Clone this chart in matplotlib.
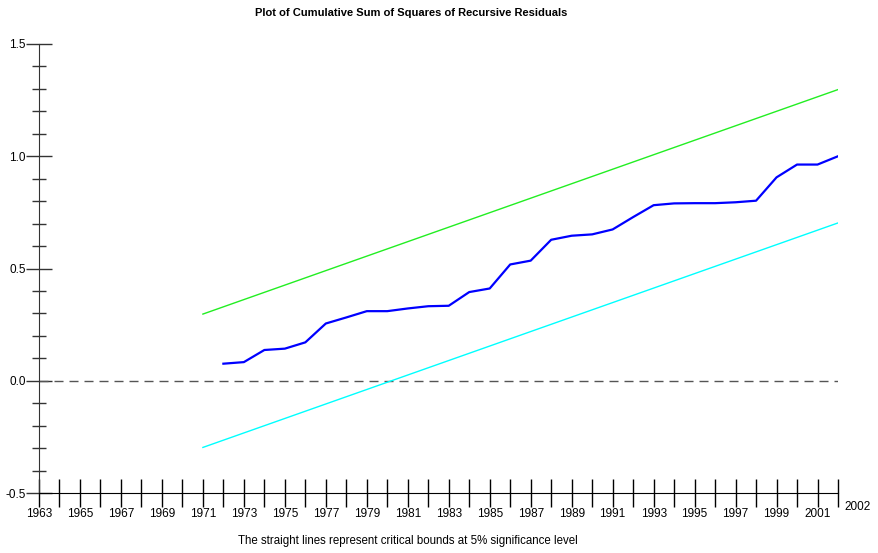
import numpy as np
import matplotlib
matplotlib.use("Agg")
import matplotlib.pyplot as plt
from matplotlib.ticker import MultipleLocator, FixedLocator

plt.rcParams['font.family'] = ['Liberation Sans', 'DejaVu Sans']

years = list(range(1972, 2003))
cusumsq = [0.076, 0.083, 0.137, 0.143, 0.171, 0.255, 0.282, 0.310, 0.310, 0.322,
           0.332, 0.334, 0.395, 0.411, 0.518, 0.535, 0.628, 0.646, 0.652, 0.674,
           0.729, 0.782, 0.790, 0.791, 0.791, 0.795, 0.802, 0.906, 0.963, 0.963,
           1.000]
bound_years = [1971, 2002]
upper = [0.297, 1.297]
lower = [-0.297, 0.703]
zero_years = [1963, 2002]
zero_vals = [0.0, 0.0]

fig = plt.figure(figsize=(8.79, 5.53), dpi=100)
ax = fig.add_axes([39/879, 60/553, (838-39)/879, (493-44)/553])

ax.plot(zero_years, zero_vals, color='#555555', lw=1, dashes=(6.5, 4.3))
ax.plot(bound_years, upper, color='#22ee22', lw=1)
ax.plot(bound_years, lower, color='#00ffff', lw=1)
ax.plot(years, cusumsq, color='#0000ff', lw=1.6)

ax.set_xlim(1963, 2002)
ax.set_ylim(-0.5, 1.5)
ax.spines['top'].set_visible(False)
ax.spines['right'].set_visible(False)
ax.spines['left'].set_color('#333333')

ax.yaxis.set_major_locator(MultipleLocator(0.5))
ax.yaxis.set_minor_locator(MultipleLocator(0.1))
ax.yaxis.set_major_formatter(plt.FormatStrFormatter('%.1f'))
ax.tick_params(axis='y', which='major', direction='inout', length=19, width=1,
               pad=0, labelsize=8.5, color='#333333')
ax.tick_params(axis='y', which='minor', direction='inout', length=10, width=1,
               color='#333333')

ax.xaxis.set_major_locator(FixedLocator(range(1963, 2002, 2)))
ax.xaxis.set_minor_locator(FixedLocator(range(1964, 2003, 2)))
ax.xaxis.set_major_formatter(plt.FuncFormatter(lambda v, p: str(int(v))))
ax.tick_params(axis='x', which='both', direction='inout', length=20, width=1,
               pad=1, labelsize=8.5)

ax.annotate('2002', xy=(2002, -0.5), xytext=(20, -14), textcoords='offset pixels',
            ha='center', va='center', fontsize=8.5)

fig.text(411/879, 1 - 13/553, 'Plot of Cumulative Sum of Squares of Recursive Residuals',
         ha='center', va='center', fontsize=8, fontweight='bold')
fig.text(408/879, 1 - 541/553,
         'The straight lines represent critical bounds at 5% significance level',
         ha='center', va='center', fontsize=8.3)

fig.savefig('out.png', dpi=100)
